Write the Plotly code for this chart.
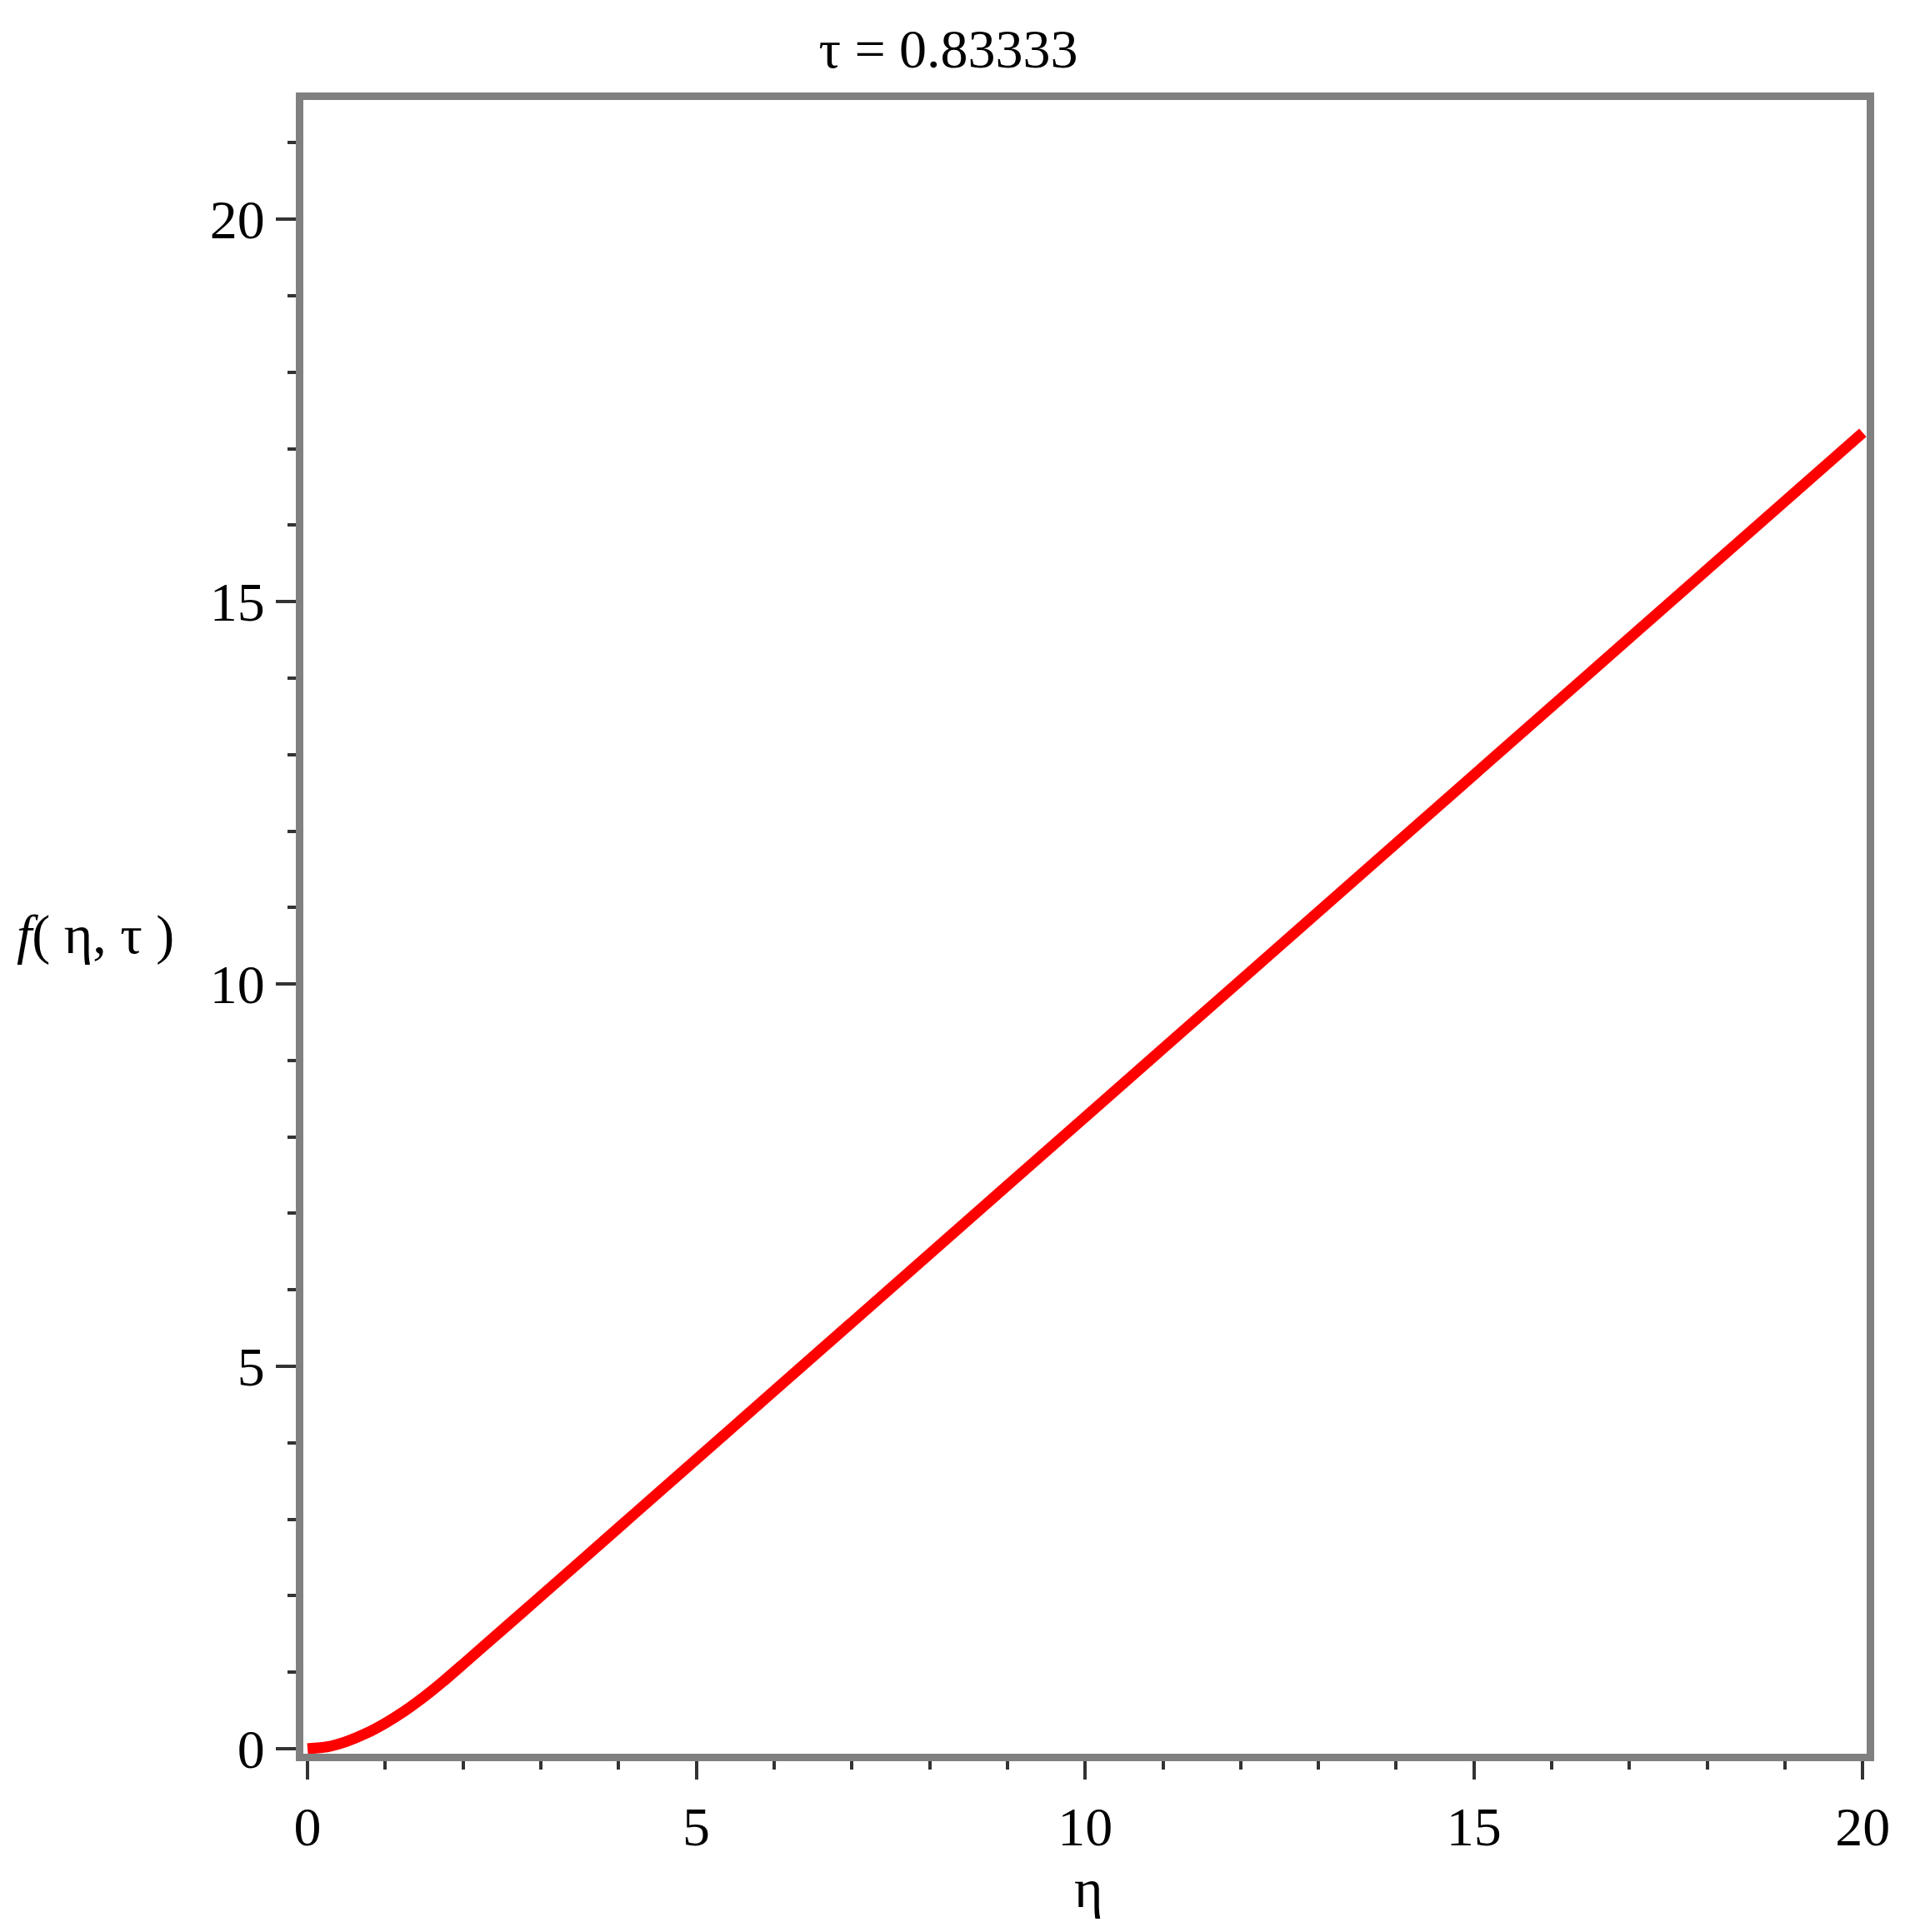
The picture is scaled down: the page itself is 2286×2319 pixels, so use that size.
import plotly.graph_objects as go

# values
eta = [0, 0.25, 0.5, 0.75, 1.0, 1.25, 1.5, 1.75, 2.0, 2.5, 3, 4, 5, 6, 8, 10, 12, 15, 18, 20]
f_vals = [0, 0.025, 0.095, 0.2, 0.335, 0.495, 0.68, 0.885, 1.105, 1.55, 1.995, 2.89, 3.785,
          4.68, 6.47, 8.26, 10.05, 12.735, 15.42, 17.21]

tau_label = "τ = 0.83333"
major_ticks = [0, 5, 10, 15, 20]

W, H = 2286, 2319
left, right, top, bottom = 356, 2232, 112, 2097  # inner edge of the frame, px

font_main = dict(family="Liberation Serif, Times New Roman, serif", size=66, color="black")

fig = go.Figure()
fig.add_trace(go.Scatter(
    x=eta, y=f_vals, mode="lines",
    line=dict(color="#ff0000", width=13, shape="spline", smoothing=0.5),
    showlegend=False, hoverinfo="x+y"
))

axis_common = dict(
    showline=True, linecolor="#808080", linewidth=9, mirror=True,
    showgrid=False, zeroline=False,
    ticks="outside", tickcolor="#333333", tickwidth=4,
    tickvals=major_ticks, ticktext=[str(t) for t in major_ticks],
    tickfont=font_main,
    minor=dict(dtick=1, tick0=0, ticks="outside", ticklen=10, tickwidth=4, tickcolor="#333333"),
)

fig.update_layout(
    width=W, height=H,
    paper_bgcolor="white", plot_bgcolor="white",
    margin=dict(l=left, r=W - right, t=top, b=H - bottom, pad=0),
    title=dict(text=tau_label, x=1130 / W, xanchor="center", xref="container",
               y=1 - 50 / H, yanchor="middle", font=font_main),
    xaxis=dict(range=[-0.054, 20.05], ticklen=22, **axis_common),
    yaxis=dict(range=[-0.065, 21.56], ticklen=24, **axis_common),
    annotations=[
        dict(text="η", x=(1298 - left) / (right - left), y=(bottom - 2258) / (bottom - top),
             xref="paper", yref="paper", showarrow=False, xanchor="center", yanchor="middle",
             font=font_main),
        dict(text="<i>f</i>( η, τ )", x=(10 - left) / (right - left), y=(bottom - 1114) / (bottom - top),
             xref="paper", yref="paper", showarrow=False, xanchor="left", yanchor="middle",
             font=font_main),
    ],
)

fig.write_html("out.html")
